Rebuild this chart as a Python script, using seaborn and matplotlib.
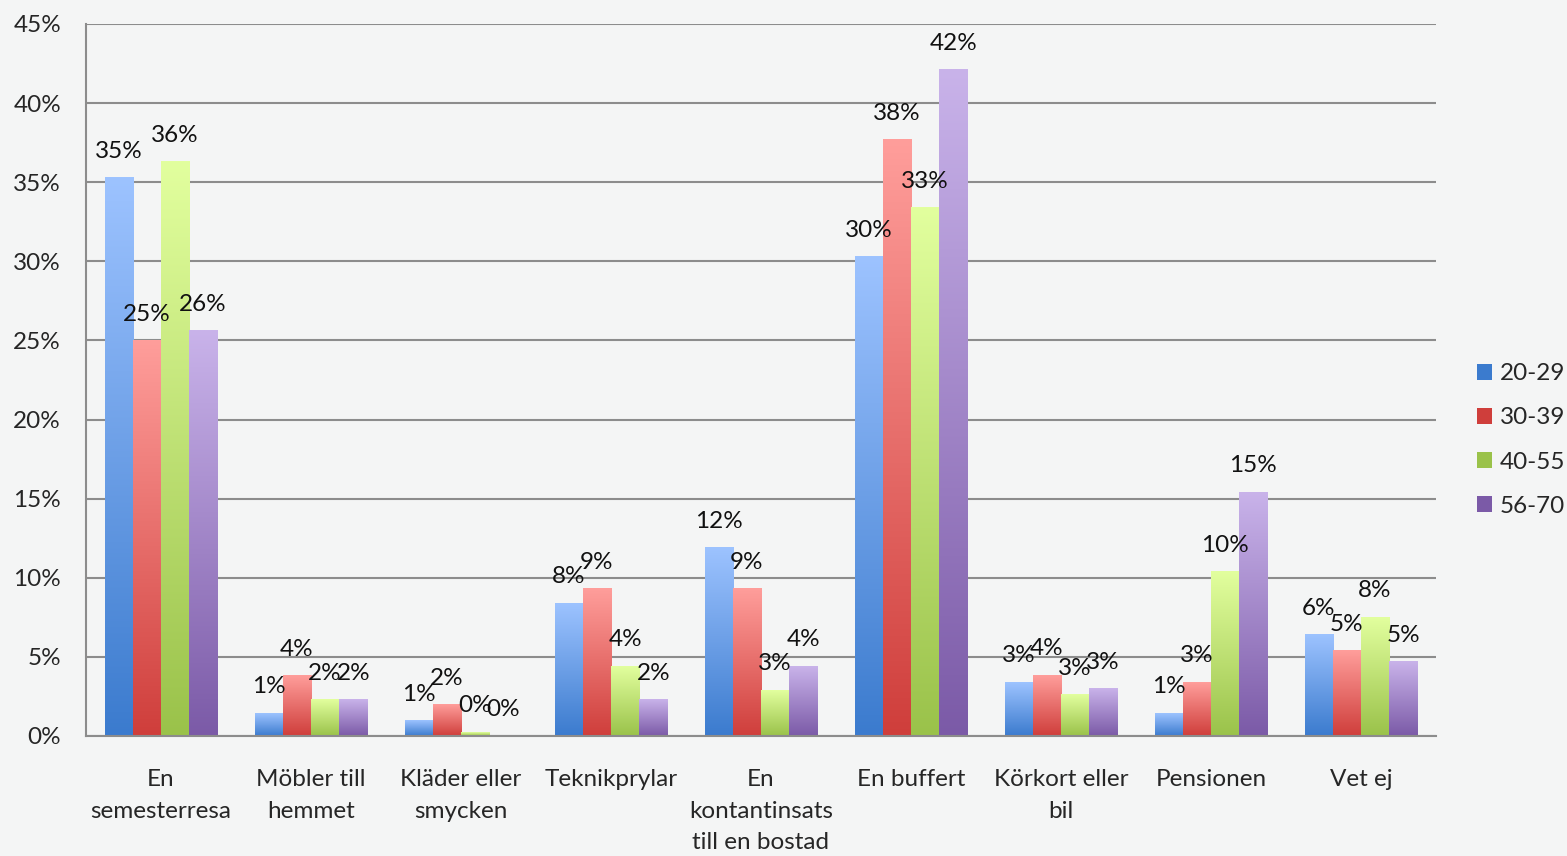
import numpy as np
import pandas as pd
import matplotlib
matplotlib.use("Agg")
import matplotlib.pyplot as plt
from matplotlib.colors import LinearSegmentedColormap
from matplotlib.patches import Patch
import seaborn as sns

categories = [
    "En\nsemesterresa", "Möbler till\nhemmet", "Kläder eller\nsmycken", "Teknikprylar",
    "En\nkontantinsats\ntill en bostad", "En buffert", "Körkort eller\nbil", "Pensionen", "Vet ej",
]
age_groups = ["20-29", "30-39", "40-55", "56-70"]
v_20_29 = [35.3, 1.45, 0.95, 8.4, 11.9, 30.3, 3.4, 1.45, 6.4]
v_30_39 = [25.0, 3.8, 1.96, 9.3, 9.3, 37.7, 3.85, 3.4, 5.4]
v_40_55 = [36.3, 2.3, 0.25, 4.4, 2.9, 33.4, 2.6, 10.4, 7.5]
v_56_70 = [25.6, 2.3, 0.0, 2.3, 4.4, 42.1, 3.0, 15.4, 4.7]

# (light top, dark bottom) per series
grad_colors = {
    "20-29": ("#9DC3FF", "#3B7BCE"),
    "30-39": ("#FF9E9B", "#CF3E3B"),
    "40-55": ("#E2FF9E", "#9AC24A"),
    "56-70": ("#C9B3EA", "#7B5AA7"),
}

df = pd.DataFrame({
    "kategori": categories * 4,
    "alder": np.repeat(age_groups, len(categories)),
    "andel": v_20_29 + v_30_39 + v_40_55 + v_56_70,
})

bg = "#F4F5F5"
fs = 17.5
sns.set_style("white")
plt.rcParams["font.family"] = ["Lato", "DejaVu Sans"]

fig = plt.figure(figsize=(15.67, 8.56), dpi=100, facecolor=bg)
ax = fig.add_axes([86 / 1567, 120 / 856, (1436 - 86) / 1567, (736 - 24) / 856])
ax.set_facecolor(bg)

sns.barplot(data=df, x="kategori", y="andel", hue="alder", order=categories,
            hue_order=age_groups, width=0.75, ax=ax, legend=False,
            palette={k: v[1] for k, v in grad_colors.items()})

grad = np.linspace(0, 1, 256).reshape(-1, 1)
for container, grp in zip(ax.containers, age_groups):
    cmap = LinearSegmentedColormap.from_list(grp, [grad_colors[grp][1], grad_colors[grp][0]])
    for bar in container:
        x0, w, h = bar.get_x(), bar.get_width(), bar.get_height()
        bar.set_facecolor("none")
        bar.set_edgecolor("none")
        if h > 0:
            ax.imshow(grad, cmap=cmap, origin="lower", aspect="auto",
                      extent=[x0, x0 + w, 0, h], zorder=2)
        ax.annotate(f"{h:.0f}%", (x0 + w / 2, h), xytext=(0, 19),
                    textcoords="offset points", ha="center", va="center",
                    fontsize=fs, color="#111111", zorder=3)

ax.set_xlim(-0.5, len(categories) - 0.5)
ax.set_ylim(0, 45)
ax.set_yticks(np.arange(0, 46, 5))
ax.set_yticklabels([f"{t}%" for t in range(0, 46, 5)], fontsize=fs)
ax.set_xticks(np.arange(len(categories) + 1) - 0.5)
ax.set_xticklabels([])
ax.set_xticks(np.arange(len(categories)), minor=True)
ax.set_xticklabels(categories, minor=True, fontsize=fs, linespacing=1.6)
ax.tick_params(axis="x", which="minor", length=0, pad=24)
ax.tick_params(axis="x", which="major", length=6, width=1.5, color="#8C8C8C", direction="out")
ax.tick_params(axis="y", length=6, width=1.5, color="#8C8C8C", pad=12)
ax.set_axisbelow(True)
ax.yaxis.grid(True, color="#8C8C8C", linewidth=1.5)
for side in ["top", "right"]:
    ax.spines[side].set_visible(False)
for side in ["left", "bottom"]:
    ax.spines[side].set_color("#8C8C8C")
    ax.spines[side].set_linewidth(1.5)
ax.set_xlabel("")
ax.set_ylabel("")

handles = [Patch(facecolor=grad_colors[g][1], edgecolor="none") for g in age_groups]
fig.legend(handles, age_groups, loc="center left", bbox_to_anchor=(1477 / 1567, 1 - 440 / 856),
           frameon=False, fontsize=fs, handlelength=0.6, handleheight=0.6, borderpad=0,
           borderaxespad=0, handletextpad=0.35, labelspacing=0.95)

fig.savefig("out.png", dpi=100, facecolor=bg)
